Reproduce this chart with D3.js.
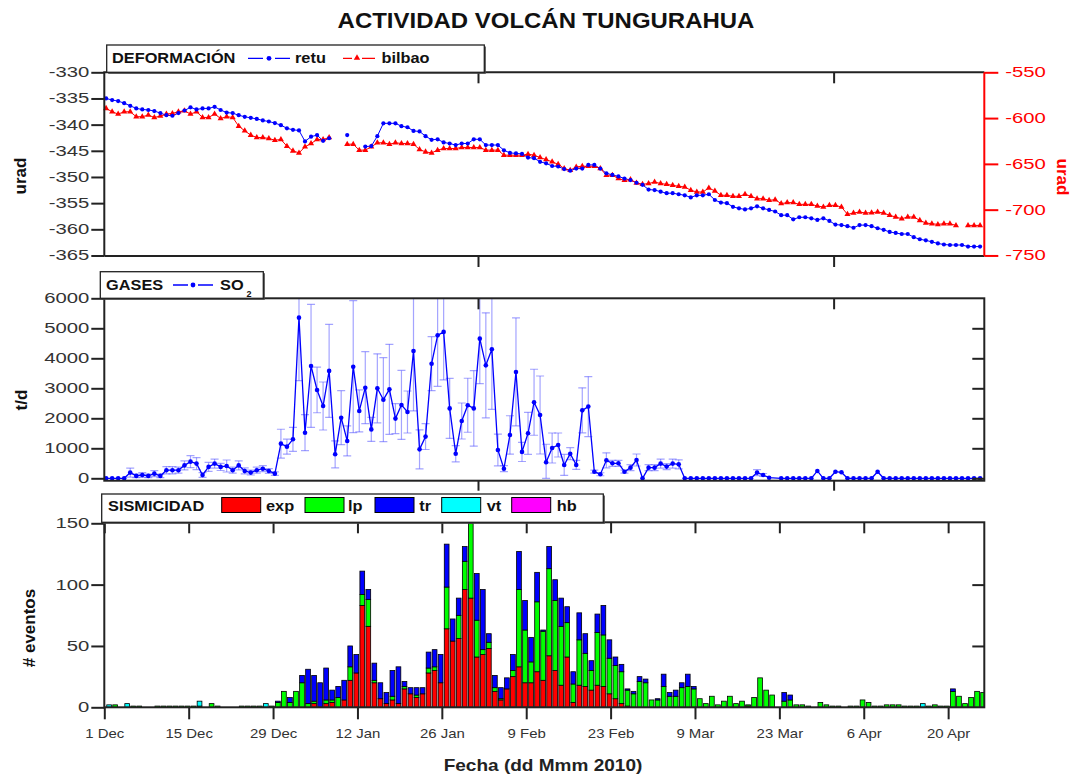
<!DOCTYPE html>
<html><head><meta charset="utf-8">
<script src="https://cdn.jsdelivr.net/npm/d3@7/dist/d3.min.js"></script>
<style>
body{margin:0;background:#fff;}
svg{display:block;}
</style></head><body>
<svg id="chart" width="1080" height="776"></svg>
<script>
// ---------------- DATA (one value per day, starting 1 Dec 2009) ----------------
const xTickLabels = ["1 Dec","15 Dec","29 Dec","12 Jan","26 Jan","9 Feb","23 Feb","9 Mar","23 Mar","6 Apr","20 Apr"];
const leftDefTicks = [-330,-335,-340,-345,-350,-355,-360,-365];
const rightDefTicks = [-550,-600,-650,-700,-750];
const so2Ticks = [0,1000,2000,3000,4000,5000,6000];
const sisTicks = [0,50,100,150];
const sisKeys = ["exp","lp","tr","vt","hb"];

const retu = [
-335.0,-335.3,-335.5,-335.9,-336.4,-336.9,-337.1,-337.2,-337.4,-337.8,
-338.2,-338.3,-337.8,-337.3,-336.7,-337.1,-336.9,-336.9,-336.6,-337.2,
-337.7,-337.8,-338.2,-338.5,-338.7,-338.9,-339.2,-339.4,-339.7,-340.1,
-340.7,-341.0,-341.1,-343.2,-342.3,-342.0,-343.1,-342.6,null,null,
-342.0,null,null,-344.2,-344.1,-342.2,-339.75,-339.75,-339.75,-340.3,
-340.5,-341.2,-341.3,-342.2,-342.9,-342.8,-343.4,-343.6,-343.9,-343.6,
-343.6,-342.8,-342.8,-343.9,-343.9,-343.9,-344.9,-345.4,-345.5,-345.6,
-346.3,-346.4,-347.1,-347.4,-347.9,-348.0,-348.5,-348.8,-348.4,-348.4,
-347.7,-347.7,-348.4,-349.3,-349.6,-349.9,-350.3,-350.6,-351.1,-351.5,
-352.4,-352.5,-352.8,-353.1,-353.1,-353.3,-353.5,-353.9,-353.5,-353.5,
-353.3,-354.4,-354.9,-355.0,-355.7,-356.0,-356.2,-356.0,-355.6,-356.0,
-356.3,-356.6,-357.3,-357.3,-358.1,-357.7,-357.7,-357.9,-358.2,-357.9,
-358.4,-359.1,-359.2,-359.4,-359.7,-359.2,-359.2,-359.4,-359.8,-360.1,
-360.5,-360.7,-360.9,-360.9,-361.5,-361.9,-362.1,-362.4,-362.7,-362.9,
-363.0,-363.0,-363.0,-363.3,-363.3,-363.3];

const bilbao = [
-589.4,-593.1,-595.6,-593.1,-593.1,-598.5,-598.5,-596.7,-599.3,-597.8,
-595.6,-594.9,-593.1,-592.0,-595.6,-593.1,-599.3,-599.3,-595.6,-600.4,
-598.5,-599.3,-608.8,-613.9,-618.6,-621.2,-621.2,-622.3,-624.1,-623.4,
-630.7,-635.8,-638.0,-631.4,-627.7,-623.4,-623.4,-621.2,null,null,
-628.5,-628.5,-635.0,-635.0,-631.4,-627.0,-627.0,-628.5,-627.0,-627.7,
-627.7,-628.5,-634.3,-636.9,-638.0,-635.0,-633.2,-633.2,-633.2,-632.1,
-632.1,-632.1,-632.1,-635.0,-635.0,-635.0,-640.5,-640.5,-640.5,-640.5,
-639.4,-640.5,-643.1,-645.3,-647.8,-650.4,-655.1,-656.9,-653.3,-652.6,
-652.6,-652.6,-655.1,-662.4,-662.4,-666.1,-667.9,-667.2,-670.8,-672.3,
-671.5,-669.7,-671.5,-672.3,-673.4,-674.5,-675.2,-678.8,-680.7,-680.7,
-676.3,-679.6,-684.3,-684.3,-685.4,-685.4,-683.2,-685.4,-688.0,-688.0,
-689.8,-689.1,-693.4,-692.3,-692.3,-694.2,-694.2,-694.2,-696.0,-697.1,
-695.3,-695.3,-697.1,-705.1,-703.6,-702.6,-703.6,-703.3,-702.6,-703.6,
-706.2,-708.0,-709.9,-708.0,-708.0,-711.7,-714.6,-715.3,-716.1,-715.3,
-715.3,-717.2,null,-717.2,-717.2,-717.2];

const so2 = [
0,0,0,0,190,80,110,80,155,80,
270,270,270,430,555,490,110,380,490,380,
410,270,430,245,190,270,320,245,155,1155,
1055,1300,5355,1520,3745,2945,2410,3580,800,2020,
1245,3720,2245,3020,1630,3000,2620,2965,1990,2445,
2210,4245,965,1390,3820,4765,4880,2330,820,1910,
2435,2330,4655,3765,4300,945,320,1445,3545,880,
1500,2535,2110,535,1010,1110,445,820,445,2265,
2390,220,135,600,500,500,220,355,610,0,
355,355,490,390,490,465,0,0,0,0,
0,0,0,0,0,0,0,0,190,110,
20,null,0,0,0,0,0,0,245,0,
0,220,200,0,0,0,0,0,220,0,
0,0,0,0,0,0,0,0,0,0,
0,0,0,0,0,0];

const so2Err = [
0,0,0,0,150,60,80,60,100,60,
120,120,100,150,200,200,80,150,150,120,
200,100,150,100,80,100,100,80,60,480,
250,400,2100,600,2050,760,800,1550,450,900,
500,2200,700,1200,400,1150,1400,1500,500,1150,
700,2000,650,430,900,1700,1600,1000,270,600,
900,1260,1500,1750,2000,530,100,640,1800,320,
700,1100,1300,600,500,400,350,200,150,750,
1000,50,50,250,100,100,50,100,200,0,
100,100,150,100,150,150,0,0,0,0,
0,0,0,0,0,0,0,0,100,50,
0,0,0,0,0,0,0,0,0,0,
0,0,0,0,0,0,0,0,0,0,
0,0,0,0,0,0,0,0,0,0,
0,0,0,0,0,0];

const sisExp = [
0,0,0,0,0,0,0,0,0,0,
0,0,0,0,0,0,0,0,0,0,
0,0,0,0,0,0,0,0,0,0,
0,0,0,0,3,0,3,4,0,6,
22,28,83,66,20,7,3,6,3,15,
11,8,11,28,30,20,64,54,56,96,
89,41,43,48,13,6,15,25,33,20,
20,29,22,42,30,18,41,4,18,17,
14,18,17,11,7,3,1,0,0,0,
0,0,0,0,0,0,0,0,0,0,
0,0,0,0,0,0,1,0,0,0,
0,0,0,0,0,0,0,0,0,0,
0,0,0,0,0,0,0,0,0,0,
0,0,0,0,0,0,0,0,0,0,
0,0,0,0,0,0];

const sisLp = [
0,2,0,0,1,1,0,0,1,1,
1,1,1,1,1,1,0,3,1,0,
0,0,1,1,1,1,0,1,4,13,
4,13,20,3,2,0,3,2,8,0,
11,0,9,22,2,0,0,3,0,2,
0,2,0,4,3,0,34,0,19,23,
61,30,4,5,3,1,0,5,63,43,
17,57,40,71,57,48,28,15,37,27,
16,43,42,29,27,26,13,11,21,20,
6,6,17,9,9,16,17,15,7,3,
9,2,5,9,3,5,1,8,24,14,
10,0,5,6,2,2,1,0,4,2,
1,1,0,1,1,6,4,1,1,2,
2,2,1,1,1,0,1,2,1,1,
13,9,3,8,13,12];

const sisTr = [
0,0,0,0,0,0,0,0,0,0,
0,0,0,0,0,0,0,0,0,0,
0,0,0,0,0,0,0,0,1,0,
4,0,6,28,21,20,26,8,9,16,
17,15,19,8,14,13,9,21,30,4,
5,6,5,13,14,23,35,18,14,12,
0,38,49,7,10,9,9,13,31,24,
20,24,1,18,17,23,13,10,22,16,
8,15,24,15,7,6,1,2,4,3,
0,1,10,3,5,4,10,2,0,0,
0,0,0,0,0,0,0,0,0,0,
0,0,7,4,0,0,0,0,0,0,
0,0,0,0,0,0,0,0,0,0,
0,0,0,0,0,0,0,0,0,0,
2,0,0,0,0,0];

const sisVt = [
2,0,0,3,0,0,0,0,0,0,
0,0,0,0,0,4,0,0,0,0,
0,0,0,0,0,0,3,0,0,0,
0,0,0,0,0,0,0,0,0,0,
0,0,0,0,0,0,0,0,0,0,
0,0,0,0,0,0,0,0,0,0,
0,0,0,0,0,0,0,0,0,0,
0,0,0,0,0,0,0,0,0,0,
0,0,0,0,0,0,0,0,0,0,
0,0,0,0,0,0,0,0,0,0,
0,0,0,0,0,0,0,0,0,0,
0,0,0,0,0,0,0,0,0,0,
0,0,0,0,0,0,0,0,0,0,
0,0,0,0,0,3,0,0,0,0,
0,0,0,0,0,0];

const sisHb = [
0,0,0,0,0,0,0,0,0,0,
0,0,0,0,0,0,0,0,0,0,
0,0,0,0,0,0,0,0,0,0,
0,0,0,0,0,0,0,0,0,0,
0,0,0,0,0,0,0,0,0,0,
0,0,0,0,0,0,0,0,0,0,
0,0,0,0,0,0,0,0,0,0,
0,0,0,0,0,0,0,0,0,0,
0,0,0,0,0,0,0,0,0,0,
0,0,0,0,0,0,0,0,0,0,
0,0,0,0,0,0,0,0,0,0,
0,0,0,0,0,0,0,0,0,0,
0,0,0,0,0,0,0,0,0,0,
0,0,0,0,0,0,0,0,0,0,
0,0,0,0,0,0];

const sisColors = {exp:"#ff0000", lp:"#00ff00", tr:"#0000ff", vt:"#00ffff", hb:"#ff00ff"};

// ---------------- SETUP ----------------
const FONT = '"Liberation Sans", Arial, Helvetica, sans-serif';
const AX = "#222";
const svg = d3.select("#chart");
const L = 104.3, R = 984.3;
const P1 = {t:72.3, b:256}, P2 = {t:298.3, b:480.7}, P3 = {t:522.3, b:707.3};
const DAY = 864e5;
const t0 = Date.UTC(2009,11,1);
const dt = d => new Date(t0 + d*DAY);
const plain = d => String(d);

const x = d3.scaleUtc().domain([dt(0), new Date(Date.UTC(2010,3,26))]).range([L, R]);
const yRetu = d3.scaleLinear().domain([-330,-365.1]).range([P1.t, P1.b]);
const yBil = d3.scaleLinear().domain([-550,-750.6]).range([P1.t, P1.b]);
const ySO2 = d3.scaleLinear().domain([-80,6000]).range([P2.b, P2.t]);
const ySis = d3.scaleLinear().domain([0,150.8]).range([P3.b, P3.t]);

const fortnight = xTickLabels.map((s,i) => dt(i*14));
const monthTicks = [new Date(Date.UTC(2010,1,1)), new Date(Date.UTC(2010,3,1))];

function label(g, px, py, s, o={}) {
  return g.append("text")
    .attr("transform", `translate(${px},${py})${o.rot?` rotate(${o.rot})`:""} scale(${o.sx||1},1)`)
    .attr("text-anchor", o.anchor||"start")
    .attr("font-family", FONT)
    .attr("font-size", o.size||14)
    .attr("font-weight", o.bold?"bold":"normal")
    .attr("fill", o.fill||"#111")
    .text(s);
}
function styleAxis(g, color, sx, size) {
  g.attr("color", color).attr("font-family", FONT).attr("font-size", size||14);
  g.select(".domain").remove();
  g.selectAll(".tick line").attr("stroke-width", 2);
  g.selectAll(".tick text").attr("fill", color === AX ? "#333" : color).each(function(){
    const t = d3.select(this);
    const tx = +t.attr("x") || 0, ty = +t.attr("y") || 0;
    t.attr("x", null).attr("y", null).attr("transform", `translate(${tx},${ty}) scale(${sx||1},1)`);
  });
}

// clip paths
const defs = svg.append("defs");
[["c2",P2],["c3",P3]].forEach(([id,P]) => defs.append("clipPath").attr("id",id)
  .append("rect").attr("x",L).attr("y",P.t).attr("width",R-L).attr("height",P.b-P.t));

// ---------------- TITLE ----------------
label(svg, 546, 28, "ACTIVIDAD VOLCÁN TUNGURAHUA", {size:22, bold:true, anchor:"middle", sx:1.09, fill:"#111"});

// ---------------- PANEL 1: DEFORMACIÓN ----------------
const p1 = svg.append("g");
const retuPts = retu.map((v,i) => ({d:i, v}));
const bilPts = bilbao.map((v,i) => ({d:i, v}));
p1.append("path").datum(retuPts)
  .attr("d", d3.line().defined(p => p.v != null).x(p => x(dt(p.d+0.3))).y(p => yRetu(p.v)))
  .attr("fill","none").attr("stroke","#0000ff").attr("stroke-width",1);
p1.append("path").datum(bilPts)
  .attr("d", d3.line().defined(p => p.v != null).x(p => x(dt(p.d+0.3))).y(p => yBil(p.v)))
  .attr("fill","none").attr("stroke","#ff0000").attr("stroke-width",1);
p1.selectAll(".tri").data(bilPts.filter(p => p.v != null)).join("path")
  .attr("transform", p => `translate(${x(dt(p.d+0.3))},${yBil(p.v)})`)
  .attr("d", d3.symbol(d3.symbolTriangle, 16)).attr("fill","#ff0000");
p1.selectAll(".dot").data(retuPts.filter(p => p.v != null)).join("circle")
  .attr("cx", p => x(dt(p.d+0.3))).attr("cy", p => yRetu(p.v)).attr("r",2.1).attr("fill","#0000ff");

// axes panel 1
p1.append("g").attr("transform",`translate(${L},0)`)
  .call(d3.axisLeft(yRetu).tickValues(leftDefTicks).tickSize(13).tickPadding(2).tickFormat(plain))
  .call(g => styleAxis(g, AX, 1.45, 14));
p1.append("g").attr("transform",`translate(${R},0)`)
  .call(d3.axisRight(yBil).tickValues(rightDefTicks).tickSize(14).tickPadding(7).tickFormat(plain))
  .call(g => styleAxis(g, "#ff0000", 1.45, 14));
p1.append("g").attr("transform",`translate(0,${P1.t})`)
  .call(d3.axisBottom(x).tickValues(monthTicks).tickSize(11).tickFormat(""))
  .call(g => styleAxis(g, AX));
p1.append("g").attr("transform",`translate(0,${P1.b})`)
  .call(d3.axisBottom(x).tickValues(monthTicks).tickSize(11).tickFormat(""))
  .call(g => styleAxis(g, AX));
p1.append("path").attr("d",`M${L},${P1.b}V${P1.t}H${R}M${L},${P1.b}H${R}`)
  .attr("fill","none").attr("stroke",AX).attr("stroke-width",2);
p1.append("line").attr("x1",R).attr("x2",R).attr("y1",P1.t).attr("y2",P1.b)
  .attr("stroke","#ff0000").attr("stroke-width",2);
label(svg, 26, 176, "urad", {size:17, bold:true, anchor:"middle", rot:-90, fill:"#111"});
label(svg, 1057, 177, "urad", {size:17, bold:true, anchor:"middle", rot:90, fill:"#ff0000"});

// ---------------- PANEL 2: GASES ----------------
const p2 = svg.append("g");
const so2Pts = so2.map((v,i) => ({d:i, v, e:so2Err[i]})).filter(p => p.v != null);
const eb = p2.append("g").attr("clip-path","url(#c2)").attr("stroke","#5a5aff").attr("stroke-opacity",0.55).attr("stroke-width",1.2);
so2Pts.filter(p => p.e > 0).forEach(p => {
  const cx = x(dt(p.d+0.3)), y1 = ySO2(p.v + p.e), y2 = ySO2(Math.max(p.v - p.e, 0));
  eb.append("line").attr("x1",cx).attr("x2",cx).attr("y1",y1).attr("y2",y2);
  eb.append("line").attr("x1",cx-4).attr("x2",cx+4).attr("y1",y1).attr("y2",y1);
  eb.append("line").attr("x1",cx-4).attr("x2",cx+4).attr("y1",y2).attr("y2",y2);
});
p2.append("path").datum(so2Pts)
  .attr("d", d3.line().x(p => x(dt(p.d+0.3))).y(p => ySO2(p.v)))
  .attr("fill","none").attr("stroke","#0000ff").attr("stroke-width",1.3);
p2.selectAll(".dot").data(so2Pts).join("circle")
  .attr("cx", p => x(dt(p.d+0.3))).attr("cy", p => ySO2(p.v)).attr("r",2.3).attr("fill","#0000ff");
p2.append("g").attr("transform",`translate(${L},0)`)
  .call(d3.axisLeft(ySO2).tickValues(so2Ticks).tickSize(13).tickPadding(2).tickFormat(plain))
  .call(g => styleAxis(g, AX, 1.45, 14));
p2.append("g").attr("transform",`translate(${R},0)`)
  .call(d3.axisLeft(ySO2).tickValues(so2Ticks.slice(0,6)).tickSize(12).tickFormat(""))
  .call(g => styleAxis(g, AX));
p2.append("g").attr("transform",`translate(0,${P2.t})`)
  .call(d3.axisBottom(x).tickValues(monthTicks).tickSize(11).tickFormat(""))
  .call(g => styleAxis(g, AX));
p2.append("g").attr("transform",`translate(0,${P2.b})`)
  .call(d3.axisBottom(x).tickValues(monthTicks).tickSize(10).tickFormat(""))
  .call(g => styleAxis(g, AX));
p2.append("rect").attr("x",L).attr("y",P2.t).attr("width",R-L).attr("height",P2.b-P2.t)
  .attr("fill","none").attr("stroke",AX).attr("stroke-width",2);
label(svg, 27, 400, "t/d", {size:17, bold:true, anchor:"middle", rot:-90, fill:"#111"});

// ---------------- PANEL 3: SISMICIDAD ----------------
const p3 = svg.append("g");
const sisTable = sisExp.map((v,i) => ({d:i, exp:v, lp:sisLp[i], tr:sisTr[i], vt:sisVt[i], hb:sisHb[i]}));
const stacked = d3.stack().keys(sisKeys)(sisTable);
const bw = x(dt(1)) - x(dt(0)) - 1.3;
const bars = p3.append("g").attr("clip-path","url(#c3)");
stacked.forEach(s => {
  bars.selectAll(null).data(s.filter(seg => seg[1] - seg[0] > 0)).join("rect")
    .attr("x", seg => x(dt(seg.data.d + 0.8)) - bw/2)
    .attr("y", seg => ySis(seg[1]))
    .attr("width", bw)
    .attr("height", seg => ySis(seg[0]) - ySis(seg[1]))
    .attr("fill", sisColors[s.key]).attr("stroke","#000").attr("stroke-width",0.8);
});
p3.append("g").attr("transform",`translate(${L},0)`)
  .call(d3.axisLeft(ySis).tickValues(sisTicks).tickSize(13).tickPadding(2).tickFormat(plain))
  .call(g => styleAxis(g, AX, 1.45, 14));
p3.append("g").attr("transform",`translate(${R},0)`)
  .call(d3.axisLeft(ySis).tickValues([50,100]).tickSize(12).tickFormat(""))
  .call(g => styleAxis(g, AX));
p3.append("g").attr("transform",`translate(0,${P3.t})`)
  .call(d3.axisBottom(x).tickValues(fortnight).tickSize(11).tickFormat(""))
  .call(g => styleAxis(g, AX));
p3.append("g").attr("transform",`translate(0,${P3.b})`)
  .call(d3.axisBottom(x).tickValues(fortnight).tickSize(12).tickPadding(9).tickFormat((d,i) => xTickLabels[i]))
  .call(g => styleAxis(g, AX, 1.15, 13));
p3.append("rect").attr("x",L).attr("y",P3.t).attr("width",R-L).attr("height",P3.b-P3.t)
  .attr("fill","none").attr("stroke",AX).attr("stroke-width",2);
label(svg, 35, 628, "# eventos", {size:17, bold:true, anchor:"middle", rot:-90, fill:"#111"});
label(svg, 543, 771, "Fecha (dd Mmm 2010)", {size:17, bold:true, anchor:"middle", sx:1.12, fill:"#222"});

// ---------------- LEGENDS ----------------
function legendBox(x0, y0, x1, y1) {
  svg.append("rect").attr("x",x0+1.5).attr("y",y0+1.5).attr("width",x1-x0).attr("height",y1-y0).attr("fill","#444");
  svg.append("rect").attr("x",x0).attr("y",y0).attr("width",x1-x0).attr("height",y1-y0)
    .attr("fill","#fff").attr("stroke",AX).attr("stroke-width",1.3);
}
// deformación
legendBox(106.7, 45, 484.3, 72.3);
label(svg, 112, 63.3, "DEFORMACIÓN", {size:15, bold:true, sx:1.09});
svg.append("path").attr("d","M248,58.3H263M275,58.3H290").attr("stroke","#0000ff").attr("stroke-width",1.3);
svg.append("circle").attr("cx",269).attr("cy",58.3).attr("r",2.4).attr("fill","#0000ff");
label(svg, 295, 63.3, "retu", {size:15, bold:true, sx:1.09});
svg.append("path").attr("d","M343,58.3H352M362,58.3H375").attr("stroke","#ff0000").attr("stroke-width",1.3);
svg.append("path").attr("transform","translate(357,58)").attr("d", d3.symbol(d3.symbolTriangle, 18)).attr("fill","#ff0000");
label(svg, 381.5, 63.3, "bilbao", {size:15, bold:true, sx:1.09});
// gases
legendBox(100.3, 271.7, 263.3, 298.3);
label(svg, 106, 290, "GASES", {size:15, bold:true, sx:1.09});
svg.append("path").attr("d","M173,285H188M198,285H213").attr("stroke","#0000ff").attr("stroke-width",1.3);
svg.append("circle").attr("cx",193).attr("cy",285).attr("r",2.4).attr("fill","#0000ff");
label(svg, 220, 290, "SO", {size:15, bold:true, sx:1.09});
label(svg, 246.5, 296.5, "2", {size:9, bold:true});
// sismicidad
legendBox(101.7, 494, 603.3, 522.3);
label(svg, 108, 510.7, "SISMICIDAD", {size:15, bold:true, sx:1.09});
const sisLegend = [
  {k:"exp", x0:221.7, tx:266},
  {k:"lp", x0:305, tx:348},
  {k:"tr", x0:375, tx:419.3},
  {k:"vt", x0:441.7, tx:486.7},
  {k:"hb", x0:511.7, tx:556.7}
];
sisLegend.forEach(o => {
  svg.append("rect").attr("x",o.x0).attr("y",497.5).attr("width",39).attr("height",15)
    .attr("fill",sisColors[o.k]).attr("stroke","#000").attr("stroke-width",1);
  label(svg, o.tx, 510.7, o.k, {size:15, bold:true, sx:1.09});
});
</script>
</body></html>
